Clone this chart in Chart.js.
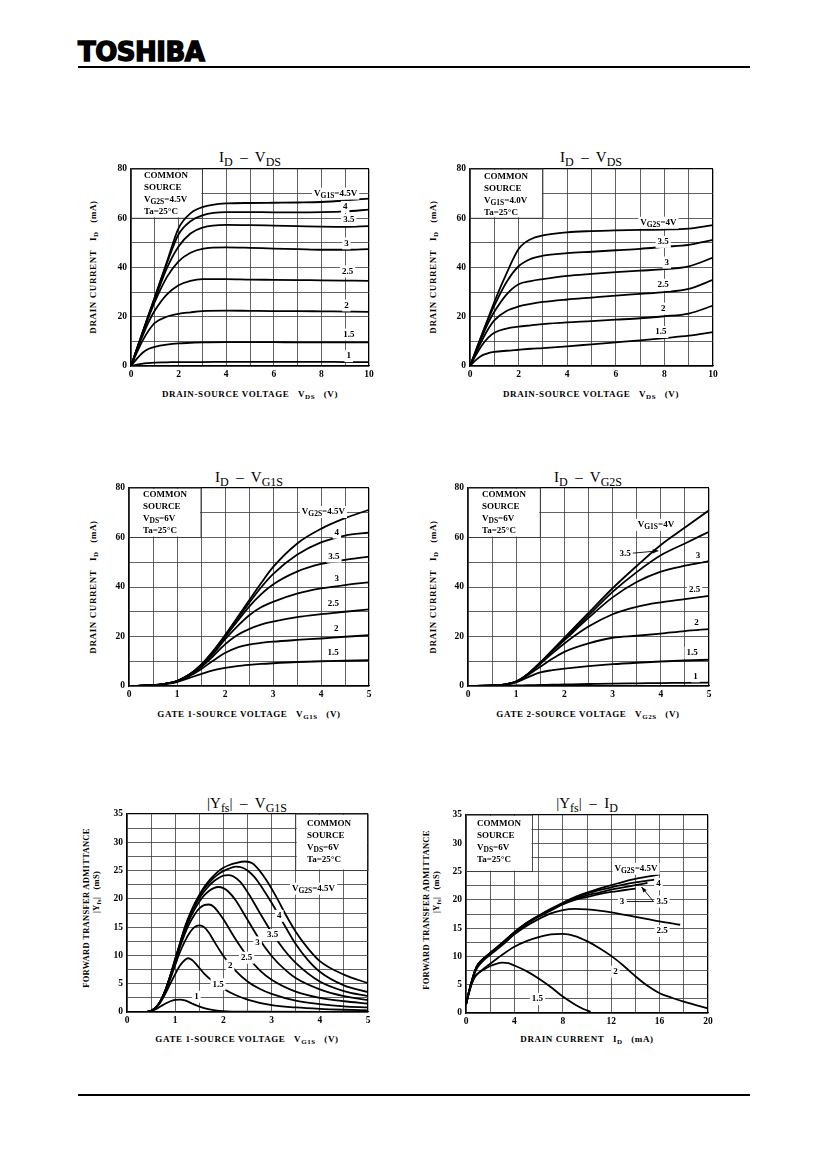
<!DOCTYPE html>
<html>
<head>
<meta charset="utf-8">
<script src="https://cdn.jsdelivr.net/npm/chart.js@4.4.0/dist/chart.umd.min.js"></script>
<style>
  body { margin: 0; background: #fff; width: 827px; height: 1169px; position: relative; overflow: hidden; font-family: "Liberation Serif", serif; color: #000; }
  canvas { position: absolute; }
  .logo { position: absolute; left: 78px; top: 39px; line-height: 26px; font-family: "DejaVu Sans", sans-serif; font-weight: bold; font-size: 26px; letter-spacing: -0.5px; -webkit-text-stroke: 1.4px #000; }
  .rule { position: absolute; left: 78px; width: 672px; background: #000; }
  .ttl { position: absolute; transform: translate(-50%, -50%); font-size: 15px; white-space: nowrap; }
  .ttl sub { font-size: 80%; }
  .xt { position: absolute; transform: translate(-50%, -50%); font-size: 9px; font-weight: bold; white-space: nowrap; letter-spacing: 0.6px; }
  .yt { position: absolute; transform: translate(-50%, -50%) rotate(-90deg); font-size: 9px; font-weight: bold; white-space: nowrap; letter-spacing: 0.6px; }
  .yt.s { font-size: 8.5px; letter-spacing: 0.3px; }
  sub { font-size: 78%; vertical-align: baseline; position: relative; top: 0.35em; }
</style>
</head>
<body>
<div class="logo">TOSHIBA</div>
<div class="rule" style="top:66px;height:1.5px"></div>
<div class="rule" style="top:1094px;height:2px"></div>

<div class="ttl" style="left:250px;top:157px">I<sub>D</sub> &nbsp;–&nbsp; V<sub>DS</sub></div>
<div class="ttl" style="left:591px;top:157px">I<sub>D</sub> &nbsp;–&nbsp; V<sub>DS</sub></div>
<div class="xt" style="left:250px;top:394px">DRAIN-SOURCE VOLTAGE&nbsp;&nbsp;&nbsp;V<sub>DS</sub>&nbsp;&nbsp;&nbsp;(V)</div>
<div class="xt" style="left:591px;top:394px">DRAIN-SOURCE VOLTAGE&nbsp;&nbsp;&nbsp;V<sub>DS</sub>&nbsp;&nbsp;&nbsp;(V)</div>
<div class="yt" style="left:93px;top:267px">DRAIN CURRENT&nbsp;&nbsp;&nbsp;I<sub>D</sub>&nbsp;&nbsp;&nbsp;(mA)</div>
<div class="yt" style="left:433px;top:267px">DRAIN CURRENT&nbsp;&nbsp;&nbsp;I<sub>D</sub>&nbsp;&nbsp;&nbsp;(mA)</div>

<div class="ttl" style="left:249px;top:477px">I<sub>D</sub> &nbsp;–&nbsp; V<sub>G1S</sub></div>
<div class="ttl" style="left:588px;top:477px">I<sub>D</sub> &nbsp;–&nbsp; V<sub>G2S</sub></div>
<div class="xt" style="left:249px;top:714px">GATE 1-SOURCE VOLTAGE&nbsp;&nbsp;&nbsp;V<sub>G1S</sub>&nbsp;&nbsp;&nbsp;(V)</div>
<div class="xt" style="left:588px;top:714px">GATE 2-SOURCE VOLTAGE&nbsp;&nbsp;&nbsp;V<sub>G2S</sub>&nbsp;&nbsp;&nbsp;(V)</div>
<div class="yt" style="left:93px;top:587px">DRAIN CURRENT&nbsp;&nbsp;&nbsp;I<sub>D</sub>&nbsp;&nbsp;&nbsp;(mA)</div>
<div class="yt" style="left:433px;top:587px">DRAIN CURRENT&nbsp;&nbsp;&nbsp;I<sub>D</sub>&nbsp;&nbsp;&nbsp;(mA)</div>

<div class="ttl" style="left:247px;top:803px">|Y<sub>fs</sub>| &nbsp;–&nbsp; V<sub>G1S</sub></div>
<div class="ttl" style="left:587px;top:803px">|Y<sub>fs</sub>| &nbsp;–&nbsp; I<sub>D</sub></div>
<div class="xt" style="left:247px;top:1039px">GATE 1-SOURCE VOLTAGE&nbsp;&nbsp;&nbsp;V<sub>G1S</sub>&nbsp;&nbsp;&nbsp;(V)</div>
<div class="xt" style="left:587px;top:1039px">DRAIN CURRENT&nbsp;&nbsp;&nbsp;I<sub>D</sub>&nbsp;&nbsp;&nbsp;(mA)</div>
<div class="yt s" style="left:86px;top:908px">FORWARD TRANSFER ADMITTANCE</div>
<div class="yt s" style="left:96px;top:892px">|Y<sub>fs</sub>|&nbsp;&nbsp;&nbsp;(mS)</div>
<div class="yt s" style="left:426px;top:910px">FORWARD TRANSFER ADMITTANCE</div>
<div class="yt s" style="left:436px;top:892px">|Y<sub>fs</sub>|&nbsp;&nbsp;&nbsp;(mS)</div>

<canvas id="c1"></canvas>
<canvas id="c2"></canvas>
<canvas id="c3"></canvas>
<canvas id="c4"></canvas>
<canvas id="c5"></canvas>
<canvas id="c6"></canvas>

<script>
// ---- ID - VDS (VG2S = 4.5V), curves by VG1S ----
const vdsA = [0, 0.25, 0.5, 0.75, 1, 1.5, 2, 2.5, 3, 4, 5, 6, 7, 8, 9, 10];
const idA_45 = [0, 7, 14, 21, 28, 42, 56, 62, 64.5, 66, 66.2, 66.3, 66.4, 66.6, 67.2, 68];
const idA_40 = [0, 7, 14, 21, 27.8, 41.5, 53.5, 58.8, 61.2, 62.5, 62.5, 62.4, 62.4, 62.5, 62.8, 63.5];
const idA_35 = [0, 7, 14, 20.5, 27, 39.5, 48.5, 53.8, 56.2, 57.3, 57.2, 57, 56.8, 56.6, 56.5, 56.8];
const idA_30 = [0, 6.8, 13.5, 20, 26, 36, 42.5, 46, 47.6, 48.2, 48, 47.7, 47.5, 47.2, 47.2, 47.5];
const idA_25 = [0, 6.5, 12.5, 18, 22.5, 29, 32.8, 34.6, 35.3, 35.3, 35.1, 35, 34.9, 34.8, 34.7, 34.6];
const idA_20 = [0, 5.5, 10.5, 14.5, 17.5, 20, 21.2, 21.8, 22.3, 22.5, 22.4, 22.3, 22.3, 22.2, 22.1, 22];
const idA_15 = [0, 3, 5.5, 7, 7.8, 8.7, 9.2, 9.4, 9.6, 9.7, 9.7, 9.7, 9.6, 9.6, 9.6, 9.6];
const idA_10 = [0, 0.6, 1, 1.2, 1.4, 1.5, 1.6, 1.6, 1.6, 1.7, 1.7, 1.7, 1.7, 1.7, 1.6, 1.6];

// ---- ID - VDS (VG1S = 4.0V), curves by VG2S ----
const vdsB = [0, 0.25, 0.5, 0.75, 1, 1.5, 2, 2.5, 3, 4, 5, 6, 7, 8, 9, 10];
const idB_40 = [0, 6.5, 13, 19.5, 26, 37.5, 47.5, 51.5, 53, 54.3, 54.8, 55.1, 55.3, 55.4, 55.8, 57.2];
const idB_35 = [0, 6.5, 13, 19, 24.5, 34, 40.5, 43.5, 44.8, 45.8, 46.4, 47, 47.6, 48.4, 49.2, 51.2];
const idB_30 = [0, 6, 12, 17.5, 22, 29, 33.2, 34.5, 35.3, 36.6, 37.4, 38.1, 38.7, 39.3, 40.5, 44];
const idB_25 = [0, 5.5, 10.5, 15, 18.5, 22.3, 24.2, 25.2, 26, 27, 27.8, 28.6, 29.3, 30, 31.3, 35];
const idB_20 = [0, 4.5, 8.5, 11.5, 13.5, 15.2, 16, 16.5, 17, 17.7, 18.2, 18.8, 19.4, 20.2, 21.3, 24.5];
const idB_15 = [0, 2.5, 4.3, 5.2, 5.7, 6.2, 6.6, 7, 7.3, 8, 8.8, 9.6, 10.4, 11.3, 12.3, 13.8];

// ---- ID - VG1S (VDS = 6V), curves by VG2S ----
const vg1C = [0, 0.5, 0.75, 1, 1.25, 1.5, 1.75, 2, 2.25, 2.5, 2.75, 3, 3.5, 4, 4.5, 5];
const idC_45 = [0, 0.3, 0.9, 2, 4.5, 8.5, 14, 20.5, 27.5, 34.5, 41.5, 48, 57.5, 63.5, 67.8, 71.2];
const idC_40 = [0, 0.3, 0.9, 2, 4.5, 8.5, 14, 20.3, 27, 33.5, 39.8, 45.2, 53, 58, 60.8, 62];
const idC_35 = [0, 0.3, 0.9, 2, 4.5, 8.3, 13.6, 19.8, 26, 32, 37, 41, 46.2, 49.3, 51, 52.3];
const idC_30 = [0, 0.3, 0.9, 2, 4.4, 8, 13, 18.8, 24, 28.5, 31.8, 34, 37.3, 39.4, 40.8, 41.9];
const idC_25 = [0, 0.3, 0.9, 1.9, 4.2, 7.6, 12, 16.8, 20.5, 23, 24.8, 26, 27.8, 29, 30, 31];
const idC_20 = [0, 0.3, 0.9, 1.8, 3.9, 6.8, 10.2, 13.3, 15.5, 16.7, 17.4, 17.9, 18.6, 19.2, 19.9, 20.5];
const idC_15 = [0, 0.3, 0.8, 1.6, 3.2, 4.8, 6.3, 7.3, 8, 8.5, 8.9, 9.2, 9.7, 10, 10.2, 10.4];

// ---- ID - VG2S (VDS = 6V), curves by VG1S ----
const vg2D = [0, 0.5, 0.75, 1, 1.25, 1.5, 1.75, 2, 2.5, 3, 3.5, 4, 4.5, 5];
const idD_40 = [0, 0.2, 0.6, 1.8, 5, 9.5, 14.5, 19.5, 29.5, 39.5, 48.5, 57, 64, 71];
const idD_35 = [0, 0.2, 0.6, 1.8, 5, 9.5, 14.3, 19, 28.5, 38, 46, 52.8, 57.6, 62.3];
const idD_30 = [0, 0.2, 0.6, 1.8, 5, 9.3, 14, 18.5, 27.5, 35.8, 42, 46.2, 48.6, 50.5];
const idD_25 = [0, 0.2, 0.6, 1.8, 4.8, 9, 13.2, 17.2, 24, 29, 32, 33.8, 35.1, 36.4];
const idD_20 = [0, 0.2, 0.6, 1.8, 4.5, 7.8, 11, 13.8, 17.2, 19.5, 20.3, 21.2, 22.2, 23];
const idD_15 = [0, 0.2, 0.5, 1.5, 3.6, 5.5, 6.4, 7, 8, 8.8, 9.4, 9.9, 10.3, 10.6];
const idD_10 = [0, 0.05, 0.1, 0.2, 0.3, 0.4, 0.5, 0.6, 0.8, 1, 1.1, 1.2, 1.3, 1.4];

// ---- |Yfs| - VG1S (VDS = 6V), curves by VG2S : [VG1S, mS] ----
const yfsE_10 = [[0,0],[0.4,0],[0.5,0.15],[0.6,0.5],[0.7,1],[0.8,1.5],[0.9,1.9],[1,2.15],[1.1,2.2],[1.2,2.05],[1.3,1.7],[1.4,1.3],[1.6,0.7],[1.8,0.35],[2,0.15],[2.5,0.05],[5,0]];
const yfsE_15 = [[0,0],[0.4,0],[0.5,0.2],[0.6,0.7],[0.7,1.8],[0.8,3.3],[0.9,5],[1,6.7],[1.1,8.2],[1.2,9.2],[1.27,9.5],[1.35,9.2],[1.45,8.3],[1.6,6.8],[1.8,5.3],[2,4.1],[2.25,3],[2.5,2.2],[3,1.2],[3.5,0.8],[4,0.55],[4.5,0.4],[5,0.3]];
const yfsE_20 = [[0,0],[0.4,0],[0.5,0.2],[0.6,0.8],[0.7,1.9],[0.8,3.7],[0.9,5.9],[1,8.3],[1.1,10.6],[1.2,12.5],[1.3,14],[1.4,15],[1.5,15.3],[1.6,15],[1.7,14],[1.8,12.6],[1.9,11.2],[2,9.9],[2.25,7.3],[2.5,5.4],[2.75,4.1],[3,3.2],[3.5,2],[4,1.4],[4.5,1],[5,0.8]];
const yfsE_25 = [[0,0],[0.4,0],[0.5,0.2],[0.6,0.8],[0.7,2],[0.8,3.8],[0.9,6.2],[1,8.8],[1.1,11.5],[1.2,13.8],[1.3,15.7],[1.4,17.2],[1.5,18.3],[1.6,18.9],[1.7,19],[1.8,18.6],[1.9,17.6],[2,16.4],[2.25,12.9],[2.5,9.8],[2.75,7.4],[3,5.7],[3.5,3.6],[4,2.5],[4.5,1.9],[5,1.5]];
const yfsE_30 = [[0,0],[0.4,0],[0.5,0.2],[0.6,0.8],[0.7,2],[0.8,3.9],[0.9,6.3],[1,9],[1.1,11.8],[1.2,14.3],[1.3,16.4],[1.4,18.1],[1.5,19.5],[1.6,20.6],[1.7,21.4],[1.8,21.9],[1.9,22.1],[2,21.9],[2.1,21.3],[2.25,19.8],[2.5,16.3],[2.75,12.8],[3,9.9],[3.25,7.7],[3.5,6],[4,4],[4.5,2.8],[5,2.1]];
const yfsE_35 = [[0,0],[0.4,0],[0.5,0.2],[0.6,0.8],[0.7,2],[0.8,3.9],[0.9,6.4],[1,9.2],[1.1,12],[1.2,14.6],[1.3,16.8],[1.4,18.6],[1.5,20.1],[1.6,21.3],[1.7,22.3],[1.8,23.1],[1.9,23.7],[2,24.1],[2.1,24.2],[2.2,24],[2.35,23],[2.5,21.2],[2.75,17.6],[3,14.1],[3.25,11.1],[3.5,8.7],[4,5.4],[4.5,3.7],[5,2.8]];
const yfsE_40 = [[0,0],[0.4,0],[0.5,0.2],[0.6,0.8],[0.7,2],[0.8,3.9],[0.9,6.5],[1,9.3],[1.1,12.1],[1.2,14.8],[1.3,17],[1.4,18.9],[1.5,20.5],[1.6,21.8],[1.7,22.8],[1.8,23.7],[1.9,24.4],[2,24.9],[2.1,25.3],[2.25,25.7],[2.4,25.5],[2.5,25],[2.65,23.8],[2.8,22],[3,19.3],[3.25,15.6],[3.5,12],[3.75,9.2],[4,7.1],[4.5,4.7],[5,3.5]];
const yfsE_45 = [[0,0],[0.4,0],[0.5,0.2],[0.6,0.8],[0.7,2],[0.8,3.9],[0.9,6.5],[1,9.4],[1.1,12.2],[1.2,15],[1.3,17.2],[1.4,19.1],[1.5,20.7],[1.6,22.1],[1.7,23.2],[1.8,24.1],[1.9,24.9],[2,25.5],[2.1,25.9],[2.25,26.3],[2.45,26.6],[2.6,26.3],[2.75,25],[2.9,23.2],[3.1,20.3],[3.3,17.1],[3.5,14.2],[3.75,11.3],[4,9],[4.5,6.6],[5,5.1]];

// ---- |Yfs| - ID (VDS = 6V), curves by VG2S : [mA, mS] ----
const yfsF_45 = [[0,1.5],[0.25,3.8],[0.5,5.8],[0.75,7.5],[1,8.6],[1.5,9.7],[2,10.6],[3,12.4],[4,14.3],[5,15.9],[6,17.2],[7,18.4],[8,19.5],[9,20.5],[10,21.3],[11,22],[12,22.6],[13,23.2],[14,23.7],[15,24.1],[16,24.5]];
const yfsF_40 = [[0,1.5],[0.25,3.8],[0.5,5.8],[0.75,7.5],[1,8.6],[1.5,9.7],[2,10.6],[3,12.4],[4,14.3],[5,15.9],[6,17.2],[7,18.3],[8,19.4],[9,20.3],[10,21.1],[11,21.7],[12,22.2],[13,22.7],[14,23.1],[15,23.4],[15.7,23.6]];
const yfsF_35 = [[0,1.5],[0.25,3.8],[0.5,5.8],[0.75,7.5],[1,8.6],[1.5,9.7],[2,10.6],[3,12.4],[4,14.2],[5,15.8],[6,17.1],[7,18.2],[8,19.3],[9,20.1],[10,20.8],[11,21.3],[12,21.8],[13,22.2],[14,22.6],[15,23]];
const yfsF_30 = [[0,1.5],[0.25,3.8],[0.5,5.8],[0.75,7.5],[1,8.6],[1.5,9.7],[2,10.6],[3,12.3],[4,14.1],[5,15.7],[6,17],[7,18.1],[8,19.2],[9,20],[10,20.5],[11,21],[12,21.4],[13,21.7],[14,22]];
const yfsF_25 = [[0,1.5],[0.25,3.8],[0.5,5.7],[0.75,7.2],[1,8.2],[1.5,9.4],[2,10.3],[3,12],[4,13.9],[5,15.4],[6,16.6],[7,17.6],[8,18.2],[9,18.4],[10,18.3],[11,18.1],[12,17.8],[13,17.4],[14,17],[15,16.6],[16,16.2],[17.7,15.6]];
const yfsF_20 = [[0,1.5],[0.25,3.6],[0.5,5.4],[0.75,6.5],[1,7],[2,8.7],[3,10.3],[4,11.7],[5,12.7],[6,13.4],[7,13.9],[8,14],[9,13.6],[10,12.7],[11,11.5],[12,10.1],[13,8.4],[14,6.5],[15,4.8],[16,3.5],[17,2.7],[18,2],[19,1.4],[20,0.8]];
const yfsF_15 = [[0,1.5],[0.25,3.6],[0.5,5.3],[0.75,6.4],[1,7],[1.5,7.7],[2,8.3],[2.5,8.7],[3,8.9],[3.5,8.8],[4,8.4],[5,7.4],[6,6.1],[7,4.6],[8,2.9],[9,1.5],[9.7,0.7],[10.3,0.2]];

// plot rectangles on the page (layout only)
const plotBoxes = {
  c1: [131, 169, 369, 366],
  c2: [470, 169, 713, 366],
  c3: [129, 488, 369, 686],
  c4: [468, 488, 709, 686],
  c5: [127, 814, 368, 1012],
  c6: [466, 815, 708, 1013]
};

const FONT = '"Liberation Serif", serif';
const GRID = '#3a3a3a';

function richParts(str) {
  const parts = [];
  const re = /_\{([^}]*)\}/g;
  let last = 0, m;
  while ((m = re.exec(str))) {
    if (m.index > last) parts.push({ t: str.slice(last, m.index), sub: false });
    parts.push({ t: m[1], sub: true });
    last = re.lastIndex;
  }
  if (last < str.length) parts.push({ t: str.slice(last), sub: false });
  return parts;
}

function drawRich(ctx, str, x, y, align, bg) {
  const parts = richParts(str);
  const fN = 'bold 9px ' + FONT, fS = 'bold 7.5px ' + FONT;
  let w = 0;
  parts.forEach(p => { ctx.font = p.sub ? fS : fN; p.w = ctx.measureText(p.t).width; w += p.w; });
  let x0 = align === 'center' ? x - w / 2 : (align === 'right' ? x - w : x);
  if (bg) { ctx.fillStyle = '#fff'; ctx.fillRect(x0 - 2, y - 6, w + 4, 12); }
  ctx.fillStyle = '#000';
  ctx.textBaseline = 'middle';
  ctx.textAlign = 'left';
  parts.forEach(p => { ctx.font = p.sub ? fS : fN; ctx.fillText(p.t, x0, p.sub ? y + 2.5 : y); x0 += p.w; });
}

const notesPlugin = {
  id: 'notes',
  beforeDatasetsDraw(chart, args, opts) {
    const { ctx, scales: { x, y } } = chart;
    if (!opts.box) return;
    const b = opts.box;
    const l = x.getPixelForValue(b[0]), r = x.getPixelForValue(b[1]);
    const t = y.getPixelForValue(b[3]), bt = y.getPixelForValue(b[2]);
    ctx.save();
    ctx.fillStyle = '#fff';
    ctx.fillRect(l + 1, t + 1, r - l - 2, bt - t - 2);
    ctx.strokeStyle = GRID;
    ctx.lineWidth = 0.9;
    ctx.strokeRect(l, t, r - l, bt - t);
    ctx.restore();
  },
  afterDatasetsDraw(chart, args, opts) {
    const { ctx, chartArea: a, scales: { x, y } } = chart;
    ctx.save();
    (opts.lines || []).forEach(s => {
      const x1 = x.getPixelForValue(s[0]), y1 = y.getPixelForValue(s[1]);
      const x2 = x.getPixelForValue(s[2]), y2 = y.getPixelForValue(s[3]);
      ctx.strokeStyle = '#000';
      ctx.lineWidth = 0.9;
      ctx.beginPath(); ctx.moveTo(x1, y1); ctx.lineTo(x2, y2); ctx.stroke();
      if (s[4]) {
        const ang = Math.atan2(y2 - y1, x2 - x1);
        ctx.fillStyle = '#000';
        ctx.beginPath();
        ctx.moveTo(x2, y2);
        ctx.lineTo(x2 - 6 * Math.cos(ang - 0.35), y2 - 6 * Math.sin(ang - 0.35));
        ctx.lineTo(x2 - 6 * Math.cos(ang + 0.35), y2 - 6 * Math.sin(ang + 0.35));
        ctx.closePath(); ctx.fill();
      }
    });
    (opts.labels || []).forEach(lb => {
      drawRich(ctx, lb[2], x.getPixelForValue(lb[0]), y.getPixelForValue(lb[1]), 'center', true);
    });
    if (opts.info) {
      const inf = opts.info;
      inf.text.forEach((line, i) => {
        drawRich(ctx, line, a.left + inf.dx, a.top + inf.dy + i * 11.8, 'left', false);
      });
    }
    ctx.restore();
  }
};

function near(v, step) {
  return Math.abs(v / step - Math.round(v / step)) < 1e-6;
}

function axis(min, max, step, labelStep, isX) {
  return {
    type: 'linear',
    min: min,
    max: max,
    afterFit: s => { if (isX) s.height = 18; else s.width = 30; },
    ticks: {
      stepSize: step,
      autoSkip: false,
      maxRotation: 0,
      padding: isX ? 3 : 4,
      color: '#000',
      font: { family: FONT, size: 9.5, weight: 'bold' },
      callback: v => near(v, labelStep) ? String(Math.round(v * 10) / 10) : ''
    },
    grid: {
      drawTicks: false,
      color: c => (c.tick && (c.tick.value === max)) ? '#000' : GRID,
      lineWidth: c => (c.tick && (c.tick.value === max)) ? 1.3 : 0.8
    },
    border: { display: true, color: '#000', width: 1.3 }
  };
}

function fromX(xs, ys) {
  return ys.map((v, i) => ({ x: xs[i], y: v }));
}
function fromPairs(ps) {
  return ps.map(p => ({ x: p[0], y: p[1] }));
}

function makeChart(id, series, xAx, yAx, notes) {
  const b = plotBoxes[id];
  const cv = document.getElementById(id);
  const w = (b[2] - b[0]) + 30 + 14;
  const h = (b[3] - b[1]) + 10 + 18;
  cv.width = w; cv.height = h;
  cv.style.left = (b[0] - 30) + 'px';
  cv.style.top = (b[1] - 10) + 'px';
  cv.style.width = w + 'px';
  cv.style.height = h + 'px';
  new Chart(cv.getContext('2d'), {
    type: 'line',
    data: {
      datasets: series.map(d => ({
        data: d,
        borderColor: '#000',
        borderWidth: 1.8,
        pointRadius: 0,
        fill: false,
        cubicInterpolationMode: 'monotone'
      }))
    },
    options: {
      responsive: false,
      animation: false,
      events: [],
      layout: { padding: { top: 10, right: 14, bottom: 0, left: 0 } },
      plugins: { legend: { display: false }, tooltip: { enabled: false }, notes: notes },
      scales: { x: xAx, y: yAx }
    },
    plugins: [notesPlugin]
  });
}

makeChart('c1',
  [idA_45, idA_40, idA_35, idA_30, idA_25, idA_20, idA_15, idA_10].map(s => fromX(vdsA, s)),
  axis(0, 10, 1, 2, true), axis(0, 80, 10, 20, false),
  {
    box: [0, 3, 60, 80],
    info: { dx: 13, dy: 7, text: ['COMMON', 'SOURCE', 'V_{G2S}=4.5V', 'Ta=25°C'] },
    labels: [[8.6, 70, 'V_{G1S}=4.5V'], [9.0, 64.6, '4'], [9.15, 59.3, '3.5'], [9.05, 49.8, '3'],
             [9.1, 38.4, '2.5'], [9.05, 24.6, '2'], [9.15, 12.8, '1.5'], [9.15, 4, '1']]
  });

makeChart('c2',
  [idB_40, idB_35, idB_30, idB_25, idB_20, idB_15].map(s => fromX(vdsB, s)),
  axis(0, 10, 1, 2, true), axis(0, 80, 10, 20, false),
  {
    box: [0, 3, 60, 80],
    info: { dx: 14, dy: 8, text: ['COMMON', 'SOURCE', 'V_{G1S}=4.0V', 'Ta=25°C'] },
    labels: [[7.75, 58.2, 'V_{G2S}=4V'], [7.95, 50.4, '3.5'], [8.1, 42, '3'],
             [7.95, 33, '2.5'], [7.95, 23.3, '2'], [7.85, 13.8, '1.5']]
  });

makeChart('c3',
  [idC_45, idC_40, idC_35, idC_30, idC_25, idC_20, idC_15].map(s => fromX(vg1C, s)),
  axis(0, 5, 0.5, 1, true), axis(0, 80, 10, 20, false),
  {
    box: [0, 1.5, 60, 80],
    info: { dx: 14, dy: 7, text: ['COMMON', 'SOURCE', 'V_{DS}=6V', 'Ta=25°C'] },
    labels: [[4.05, 70.3, 'V_{G2S}=4.5V'], [4.33, 62, '4'], [4.27, 52.3, '3.5'], [4.33, 43.2, '3'],
             [4.26, 33.1, '2.5'], [4.32, 23.2, '2'], [4.25, 13.4, '1.5']]
  });

makeChart('c4',
  [idD_40, idD_35, idD_30, idD_25, idD_20, idD_15, idD_10].map(s => fromX(vg2D, s)),
  axis(0, 5, 0.5, 1, true), axis(0, 80, 10, 20, false),
  {
    box: [0, 1.5, 60, 80],
    info: { dx: 14, dy: 7, text: ['COMMON', 'SOURCE', 'V_{DS}=6V', 'Ta=25°C'] },
    lines: [[3.38, 53.6, 3.95, 54.6, true]],
    labels: [[3.9, 65.1, 'V_{G1S}=4V'], [3.26, 53.6, '3.5'], [4.77, 52.6, '3'], [4.7, 39, '2.5'],
             [4.74, 25.7, '2'], [4.65, 13.4, '1.5'], [4.72, 3.9, '1']]
  });

makeChart('c5',
  [yfsE_45, yfsE_40, yfsE_35, yfsE_30, yfsE_25, yfsE_20, yfsE_15, yfsE_10].map(fromPairs),
  axis(0, 5, 0.5, 1, true), axis(0, 35, 2.5, 5, false),
  {
    box: [3.5, 5, 25, 35],
    info: { dx: 180, dy: 10, text: ['COMMON', 'SOURCE', 'V_{DS}=6V', 'Ta=25°C'] },
    labels: [[3.87, 21.8, 'V_{G2S}=4.5V'], [3.16, 17, '4'], [3.02, 13.6, '3.5'], [2.71, 12.3, '3'],
             [2.48, 9.6, '2.5'], [2.14, 8.2, '2'], [1.89, 4.9, '1.5'], [1.44, 2.7, '1']]
  });

makeChart('c6',
  [yfsF_45, yfsF_40, yfsF_35, yfsF_30, yfsF_25, yfsF_20, yfsF_15].map(fromPairs),
  axis(0, 20, 2, 4, true), axis(0, 35, 2.5, 5, false),
  {
    box: [0, 5.5, 25, 35],
    info: { dx: 11, dy: 9, text: ['COMMON', 'SOURCE', 'V_{DS}=6V', 'Ta=25°C'] },
    lines: [[13.3, 19.7, 15.5, 19.7, false], [15.5, 19.7, 14.5, 22.3, true]],
    labels: [[14.05, 25.5, 'V_{G2S}=4.5V'], [15.9, 22.8, '4'], [16.2, 19.7, '3.5'], [12.9, 19.7, '3'],
             [16.2, 14.5, '2.5'], [12.35, 7.3, '2'], [5.9, 2.5, '1.5']]
  });
</script>
</body>
</html>
